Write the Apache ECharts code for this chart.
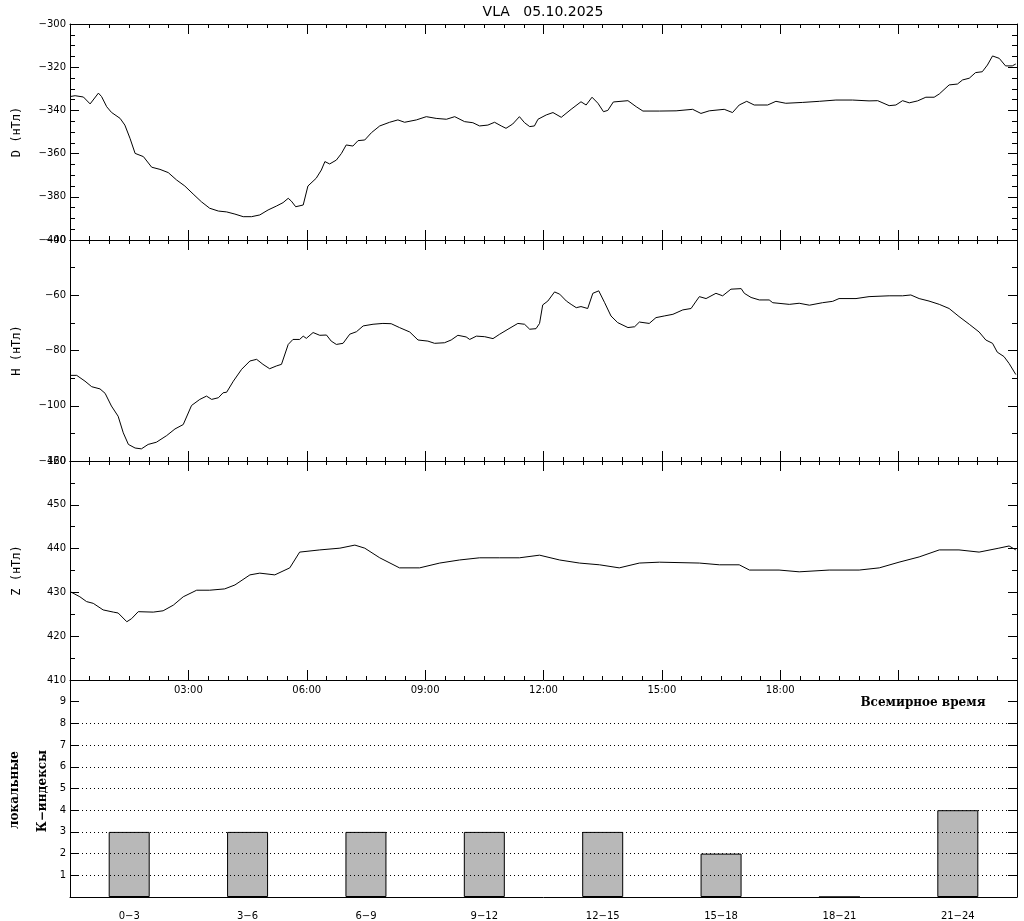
<!DOCTYPE html>
<html><head><meta charset="utf-8">
<script src="https://cdn.jsdelivr.net/npm/echarts@6/dist/echarts.min.js"></script>
<style>html,body{margin:0;padding:0;background:#fff}#c{width:1024px;height:921px}</style>
</head><body><div id="c"></div>
<script>
// ---- data (hours UT, nT) ----
const dTimes = [0.00,0.13,0.34,0.51,0.72,0.80,0.93,1.05,1.27,1.39,1.52,1.65,1.86,2.07,2.28,2.49,2.70,2.91,3.12,3.33,3.54,3.76,3.97,4.18,4.39,4.60,4.81,5.02,5.23,5.40,5.53,5.61,5.72,5.91,6.03,6.24,6.37,6.46,6.58,6.75,6.88,7.00,7.17,7.30,7.47,7.64,7.85,8.10,8.31,8.48,8.78,9.03,9.28,9.54,9.75,10.00,10.21,10.38,10.59,10.76,10.93,11.05,11.22,11.39,11.52,11.65,11.77,11.86,12.07,12.24,12.45,12.70,12.95,13.08,13.23,13.38,13.52,13.63,13.77,14.14,14.35,14.52,14.94,15.36,15.78,15.99,16.20,16.58,16.79,16.96,17.15,17.34,17.68,17.89,18.14,18.57,18.99,19.41,19.83,20.25,20.47,20.76,20.93,21.10,21.27,21.48,21.69,21.90,22.03,22.28,22.49,22.62,22.79,22.95,23.12,23.25,23.38,23.55,23.71,23.88,23.97];
const dValues = [-333.6,-333.2,-333.8,-337.0,-332.0,-333.6,-338.3,-340.9,-343.7,-346.8,-352.9,-359.9,-361.4,-366.3,-367.3,-368.8,-372.2,-375.0,-378.7,-382.3,-385.3,-386.6,-387.0,-388.0,-389.2,-389.2,-388.4,-386.1,-384.3,-382.7,-380.7,-382.0,-384.6,-383.8,-375.0,-371.4,-367.6,-363.7,-364.8,-363.0,-359.9,-356.0,-356.5,-354.0,-353.7,-350.3,-347.2,-345.5,-344.4,-345.5,-344.4,-342.9,-343.7,-344.1,-342.9,-345.2,-345.7,-347.2,-346.8,-345.5,-347.2,-348.3,-346.3,-342.9,-345.7,-347.5,-347.2,-344.1,-342.1,-341.0,-343.2,-339.5,-336.0,-337.5,-333.9,-336.7,-340.6,-340.0,-336.1,-335.5,-338.3,-340.3,-340.3,-340.2,-339.5,-341.4,-340.2,-339.5,-341.0,-337.5,-335.8,-337.5,-337.5,-335.8,-336.7,-336.3,-335.8,-335.2,-335.2,-335.6,-335.5,-337.8,-337.5,-335.5,-336.5,-335.6,-333.9,-333.9,-332.4,-328.2,-327.8,-325.9,-325.1,-322.5,-322.1,-319.0,-314.8,-315.9,-319.4,-319.4,-318.5];

const hTimes = [0.00,0.17,0.38,0.55,0.76,0.89,1.05,1.22,1.35,1.48,1.65,1.81,1.98,2.19,2.45,2.66,2.87,3.08,3.29,3.46,3.59,3.76,3.88,3.97,4.14,4.35,4.56,4.73,4.89,5.06,5.23,5.36,5.53,5.65,5.82,5.91,5.99,6.16,6.33,6.50,6.62,6.75,6.92,7.09,7.26,7.43,7.68,7.93,8.14,8.35,8.61,8.82,9.07,9.24,9.49,9.66,9.83,10.04,10.13,10.30,10.51,10.72,10.89,11.10,11.35,11.52,11.65,11.81,11.90,11.98,12.11,12.28,12.41,12.58,12.70,12.83,12.95,13.12,13.25,13.40,13.55,13.71,13.88,14.14,14.31,14.43,14.68,14.85,15.06,15.28,15.53,15.74,15.87,15.95,16.12,16.37,16.54,16.75,17.01,17.09,17.26,17.47,17.72,17.81,18.23,18.48,18.74,19.07,19.33,19.49,19.92,20.25,20.76,21.10,21.31,21.52,21.77,22.03,22.28,22.53,22.79,23.04,23.21,23.38,23.50,23.67,23.80,23.97];
const hValues = [-89.0,-89.0,-91.1,-93.1,-93.9,-95.5,-100.1,-103.8,-109.8,-114.0,-115.3,-115.6,-114.0,-113.2,-110.8,-108.4,-106.8,-99.9,-97.7,-96.5,-97.7,-97.1,-95.3,-95.1,-91.1,-86.8,-83.8,-83.2,-85.0,-86.6,-85.6,-85.0,-77.8,-76.0,-76.0,-74.8,-75.6,-73.5,-74.5,-74.4,-76.6,-77.8,-77.4,-74.1,-73.2,-71.1,-70.5,-70.2,-70.3,-71.7,-73.3,-76.2,-76.6,-77.4,-77.2,-76.2,-74.5,-75.1,-76.0,-74.8,-75.0,-75.7,-74.1,-72.3,-70.2,-70.5,-72.3,-72.1,-70.2,-63.5,-62.1,-58.8,-59.6,-62.1,-63.3,-64.5,-64.1,-64.8,-59.3,-58.4,-62.7,-67.5,-69.9,-71.7,-71.4,-69.7,-70.2,-68.1,-67.5,-66.9,-65.3,-64.8,-62.1,-60.5,-61.2,-59.3,-60.2,-57.8,-57.6,-59.3,-60.8,-61.7,-61.7,-62.7,-63.3,-62.9,-63.6,-62.7,-62.2,-61.2,-61.2,-60.5,-60.2,-60.2,-59.9,-61.2,-62.1,-63.3,-64.8,-67.7,-70.5,-73.3,-76.2,-77.4,-80.6,-82.2,-84.7,-88.7];

const zTimes = [0.00,0.25,0.42,0.59,0.84,1.10,1.22,1.44,1.56,1.73,2.11,2.36,2.62,2.87,3.21,3.54,3.92,4.18,4.56,4.81,5.19,5.57,5.82,6.33,6.84,7.22,7.47,7.85,8.35,8.86,9.37,9.87,10.38,10.89,11.39,11.90,12.41,12.91,13.42,13.92,14.43,14.94,15.95,16.46,16.96,17.22,17.97,18.48,19.24,20.00,20.51,21.01,21.52,22.03,22.53,23.04,23.54,23.80,23.97];
const zValues = [430.2,429.0,427.9,427.5,426.0,425.5,425.3,423.3,424.0,425.6,425.5,425.8,427.1,429.0,430.5,430.5,430.8,431.7,434.0,434.4,434.0,435.6,439.2,439.7,440.1,440.8,440.1,437.9,435.6,435.6,436.7,437.4,437.9,437.9,437.9,438.5,437.4,436.7,436.3,435.6,436.7,436.9,436.7,436.3,436.3,435.1,435.1,434.7,435.1,435.1,435.6,436.9,438.1,439.7,439.7,439.2,440.1,440.6,439.7];

const kCategories = ['0−3','3−6','6−9','9−12','12−15','15−18','18−21','21−24'];
const kValues = [3,3,3,3,3,2,0,4];
const kGridLevels = [1,2,3,4,5,6,7,8];
const timeTickLabels = {3:'03:00',6:'06:00',9:'09:00',12:'12:00',15:'15:00',18:'18:00'};

// ---- layout ----
const L = 70, W = 947;
const panels = [
  {top:24, h:216, min:-400, max:-300, interval:20, minorInt:5, name:'D (нТл)', t:dTimes, v:dValues},
  {top:240, h:221, min:-120, max:-40, interval:20, minorInt:10, name:'H (нТл)', t:hTimes, v:hValues},
  {top:461, h:219, min:410, max:460, interval:10, minorInt:5, name:'Z (нТл)', t:zTimes, v:zValues}
];
const kPanel = {top:680, h:220};

const tickFont = {fontFamily:'DejaVu Sans', fontSize:10, color:'#000'};
const fmtMinus = v => String(v).replace('-', '−');
const tickStyle = {color:'#000', width:1};

const grid = [], xAxis = [], yAxis = [], series = [];
function addX(g, pos, interval, len, line, label) {
  xAxis.push({
    type:'value', gridIndex:g, position:pos, min:0, max:24, interval:interval,
    axisLine:{show:line, onZero:false, lineStyle:{color:'#000', width:1}},
    axisTick:{show:true, inside:true, length:len, lineStyle:tickStyle},
    splitLine:{show:false},
    axisLabel:label || {show:false}
  });
  return xAxis.length - 1;
}
function addY(g, pos, min, max, interval, len, line, label) {
  yAxis.push({
    type:'value', gridIndex:g, position:pos, min:min, max:max, interval:interval,
    axisLine:{show:line, onZero:false, lineStyle:{color:'#000', width:1}},
    axisTick:{show:true, inside:true, length:len, lineStyle:tickStyle},
    splitLine:{show:false},
    axisLabel:label || {show:false}
  });
  return yAxis.length - 1;
}

panels.forEach((p, i) => {
  grid.push({left:L, top:p.top, width:W, height:p.h});
  const timeLabel = (i === 2) ? Object.assign({show:true, margin:5, formatter:v => timeTickLabels[v] || ''}, tickFont) : null;
  const xi = addX(i, 'bottom', 3, 10, true, timeLabel);
  addX(i, 'bottom', 0.5, 4, false);
  addX(i, 'top', 3, 10, true);
  addX(i, 'top', 0.5, 4, false);
  const yi = addY(i, 'left', p.min, p.max, p.interval, 9, true,
    Object.assign({show:true, margin:4, formatter:fmtMinus}, tickFont));
  addY(i, 'left', p.min, p.max, p.minorInt, 5, false);
  addY(i, 'right', p.min, p.max, p.interval, 9, true);
  addY(i, 'right', p.min, p.max, p.minorInt, 5, false);
  series.push({
    type:'line', xAxisIndex:xi, yAxisIndex:yi, showSymbol:false, symbol:'none',
    lineStyle:{color:'#000', width:1}, animation:false,
    data:p.t.map((t, j) => [t, p.v[j]])
  });
});

// K-index panel
grid.push({left:L, top:kPanel.top, width:W, height:kPanel.h});
xAxis.push({
  type:'category', gridIndex:3, position:'bottom', data:kCategories, boundaryGap:true,
  axisLine:{show:true, onZero:false, lineStyle:{color:'#000', width:1}}, axisTick:{show:false}, splitLine:{show:false},
  axisLabel:Object.assign({show:true, margin:14}, tickFont)
});
const kx = xAxis.length - 1;
const ky = addY(3, 'left', 0, 10, 1, 9, true,
  Object.assign({show:true, margin:4, formatter:v => (v > 0 && v < 10) ? String(v) : ''}, tickFont));
addY(3, 'right', 0, 10, 1, 9, true);
series.push({
  type:'bar', xAxisIndex:kx, yAxisIndex:ky, barWidth:41, animation:false,
  itemStyle:{color:'#b8b8b8', borderColor:'#000', borderWidth:1},
  data:kValues,
  markLine:{
    silent:true, symbol:'none', label:{show:false}, animation:false,
    lineStyle:{color:'#000', width:1, type:[1,3]},
    data:kGridLevels.map(l => ({yAxis:l}))
  }
});

const serifBold = {fontFamily:'DejaVu Serif', fontWeight:'bold', fontSize:12, fill:'#000'};
const graphic = [
  {type:'text', x:543, y:12, style:{text:'VLA   05.10.2025', align:'center', verticalAlign:'middle', fontFamily:'DejaVu Sans', fontSize:14, fill:'#000'}},
  {type:'text', x:923, y:703, style:Object.assign({text:'Всемирное время', align:'center', verticalAlign:'middle'}, serifBold)},
  {type:'text', x:15, y:790, rotation:Math.PI/2, style:Object.assign({text:'локальные', align:'center', verticalAlign:'middle'}, serifBold)},
  {type:'text', x:43, y:791, rotation:Math.PI/2, style:Object.assign({text:'К−индексы', align:'center', verticalAlign:'middle'}, serifBold)}
];
panels.forEach(p => {
  graphic.push({type:'text', x:17, y:p.top + p.h/2, rotation:Math.PI/2,
    style:{text:p.name, align:'center', verticalAlign:'middle', fontFamily:'DejaVu Sans Mono', fontSize:12, fill:'#000'}});
});

const chart = echarts.init(document.getElementById('c'), null, {renderer:'canvas'});
chart.setOption({animation:false, backgroundColor:'#fff', grid, xAxis, yAxis, series, graphic});
</script></body></html>
